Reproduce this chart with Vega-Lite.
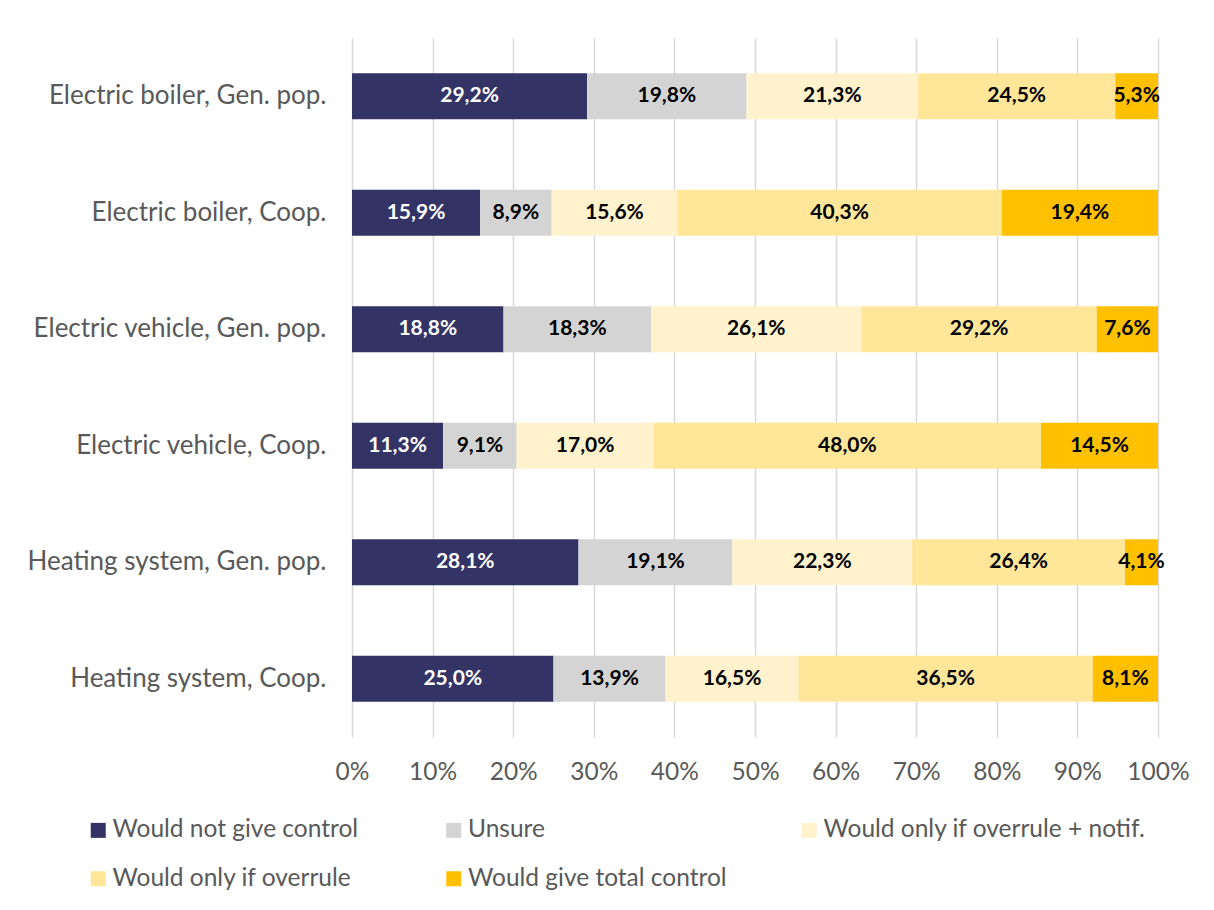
{
  "$schema": "https://vega.github.io/schema/vega-lite/v6.json",
  "autosize": {"type": "none"},
  "width": 806,
  "height": 699,
  "padding": {"left": 352, "top": 38, "right": 56, "bottom": 173},
  "background": "white",
  "config": {
    "locale": {"number": {"decimal": ",", "thousands": ".", "grouping": [3], "currency": ["", " €"]}},
    "view": {"stroke": null},
    "font": "Lato"
  },
  "data": {
    "values": [
      {"cat": "Electric boiler, Gen. pop.", "resp": "Would not give control", "o": 1, "v": 0.292},
      {"cat": "Electric boiler, Gen. pop.", "resp": "Unsure", "o": 2, "v": 0.198},
      {"cat": "Electric boiler, Gen. pop.", "resp": "Would only if overrule + notif.", "o": 3, "v": 0.213},
      {"cat": "Electric boiler, Gen. pop.", "resp": "Would only if overrule", "o": 4, "v": 0.245},
      {"cat": "Electric boiler, Gen. pop.", "resp": "Would give total control", "o": 5, "v": 0.053},
      {"cat": "Electric boiler, Coop.", "resp": "Would not give control", "o": 1, "v": 0.159},
      {"cat": "Electric boiler, Coop.", "resp": "Unsure", "o": 2, "v": 0.089},
      {"cat": "Electric boiler, Coop.", "resp": "Would only if overrule + notif.", "o": 3, "v": 0.156},
      {"cat": "Electric boiler, Coop.", "resp": "Would only if overrule", "o": 4, "v": 0.403},
      {"cat": "Electric boiler, Coop.", "resp": "Would give total control", "o": 5, "v": 0.194},
      {"cat": "Electric vehicle, Gen. pop.", "resp": "Would not give control", "o": 1, "v": 0.188},
      {"cat": "Electric vehicle, Gen. pop.", "resp": "Unsure", "o": 2, "v": 0.183},
      {"cat": "Electric vehicle, Gen. pop.", "resp": "Would only if overrule + notif.", "o": 3, "v": 0.261},
      {"cat": "Electric vehicle, Gen. pop.", "resp": "Would only if overrule", "o": 4, "v": 0.292},
      {"cat": "Electric vehicle, Gen. pop.", "resp": "Would give total control", "o": 5, "v": 0.076},
      {"cat": "Electric vehicle, Coop.", "resp": "Would not give control", "o": 1, "v": 0.113},
      {"cat": "Electric vehicle, Coop.", "resp": "Unsure", "o": 2, "v": 0.091},
      {"cat": "Electric vehicle, Coop.", "resp": "Would only if overrule + notif.", "o": 3, "v": 0.170},
      {"cat": "Electric vehicle, Coop.", "resp": "Would only if overrule", "o": 4, "v": 0.480},
      {"cat": "Electric vehicle, Coop.", "resp": "Would give total control", "o": 5, "v": 0.145},
      {"cat": "Heating system, Gen. pop.", "resp": "Would not give control", "o": 1, "v": 0.281},
      {"cat": "Heating system, Gen. pop.", "resp": "Unsure", "o": 2, "v": 0.191},
      {"cat": "Heating system, Gen. pop.", "resp": "Would only if overrule + notif.", "o": 3, "v": 0.223},
      {"cat": "Heating system, Gen. pop.", "resp": "Would only if overrule", "o": 4, "v": 0.264},
      {"cat": "Heating system, Gen. pop.", "resp": "Would give total control", "o": 5, "v": 0.041},
      {"cat": "Heating system, Coop.", "resp": "Would not give control", "o": 1, "v": 0.250},
      {"cat": "Heating system, Coop.", "resp": "Unsure", "o": 2, "v": 0.139},
      {"cat": "Heating system, Coop.", "resp": "Would only if overrule + notif.", "o": 3, "v": 0.165},
      {"cat": "Heating system, Coop.", "resp": "Would only if overrule", "o": 4, "v": 0.365},
      {"cat": "Heating system, Coop.", "resp": "Would give total control", "o": 5, "v": 0.081}
    ]
  },
  "encoding": {
    "y": {
      "field": "cat",
      "type": "nominal",
      "sort": null,
      "title": null,
      "scale": {"paddingInner": 0.605, "paddingOuter": 0.3025},
      "axis": {
        "domain": false,
        "ticks": false,
        "labelFont": "Lato",
        "labelFontSize": 26,
        "labelColor": "#595959",
        "labelPadding": 26,
        "labelLimit": 400
      }
    },
    "order": {"field": "o", "type": "quantitative"}
  },
  "layer": [
    {
      "mark": {"type": "bar"},
      "encoding": {
        "x": {
          "field": "v",
          "type": "quantitative",
          "stack": "normalize",
          "title": null,
          "scale": {"domain": [0, 1], "nice": false},
          "axis": {
            "format": ".0%",
            "values": [0, 0.1, 0.2, 0.3, 0.4, 0.5, 0.6, 0.7, 0.8, 0.9, 1],
            "domain": false,
            "ticks": false,
            "grid": true,
            "gridColor": "#d9d9d9",
            "gridWidth": 1.5,
            "labelFont": "Lato",
            "labelFontSize": 24.5,
            "labelColor": "#595959",
            "labelPadding": 23,
            "labelFlush": false
          }
        },
        "color": {
          "field": "resp",
          "type": "nominal",
          "scale": {
            "domain": ["Would not give control", "Unsure", "Would only if overrule + notif.", "Would only if overrule", "Would give total control"],
            "range": ["#333366", "#d4d4d4", "#fff2cc", "#ffe699", "#ffc000"]
          },
          "legend": {
            "title": null,
            "orient": "none",
            "legendX": -266,
            "legendY": 780,
            "direction": "horizontal",
            "columns": 3,
            "gridAlign": "all",
            "columnPadding": 6.5,
            "rowPadding": 23.5,
            "padding": 0,
            "symbolType": "square",
            "symbolSize": 225,
            "symbolStrokeWidth": 0,
            "symbolOpacity": 1,
            "labelOffset": 2,
            "labelFont": "Lato",
            "labelFontSize": 24.5,
            "labelColor": "#595959",
            "labelLimit": 400
          }
        }
      }
    },
    {
      "mark": {"type": "text", "font": "Lato", "fontWeight": "bold", "fontSize": 21},
      "encoding": {
        "x": {"field": "v", "type": "quantitative", "stack": "normalize", "bandPosition": 0.5},
        "text": {"field": "v", "type": "quantitative", "format": ".1%"},
        "color": {
          "condition": {"test": "datum.resp === 'Would not give control'", "value": "white"},
          "value": "black"
        }
      }
    }
  ]
}
